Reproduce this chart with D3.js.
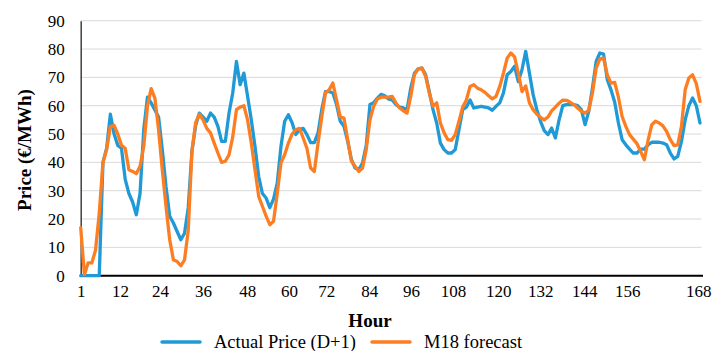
<!DOCTYPE html>
<html>
<head>
<meta charset="utf-8">
<script src="https://cdn.jsdelivr.net/npm/d3@7"></script>
<style>
  body { margin: 0; background: #fff; }
  svg text { font-family: "Liberation Serif", "Times New Roman", serif; fill: #000; }
  .tick text { font-size: 17px; }
  .axis-title { font-size: 19px; font-weight: bold; }
  .legend-text { font-size: 18.5px; }
</style>
</head>
<body>
<svg width="712" height="351"></svg>
<script>
// hours 1..168
var hours = d3.range(1, 169);

// Actual Price (D+1)
var actualPrice = [
  0, 0, 0, 0, 0, 0, 40, 45, 57, 50, 46, 45, 34, 29, 26, 21.5, 29, 51.5, 63, 61,
  58.5, 56, 44.5, 31.5, 21, 18.6, 15.6, 12.7, 15, 24,
  44, 53, 57.4, 56, 54.5, 57.4, 56, 52.7, 47.4, 47.4, 57.4, 64.5, 75.6, 67.4, 71.5, 63.3,
  55, 45.6, 35, 29, 27.4, 24, 27, 32.7, 45.6, 54.5, 56.8, 54,
  49.8, 51.5, 52, 49.8, 47, 47, 50.4, 58.6, 65, 65, 64.5, 60.4, 54.5, 52.7, 47.4, 41,
  38, 37.4, 39.8, 46, 60.4, 61, 62.7, 64, 63.5, 62.4, 62, 60.4,
  59.5, 59.2, 58.6, 66.2, 71.5, 73, 73.3, 71, 65, 58.6, 53.9, 46.8, 44.5, 43.3, 43.3,
  44.5, 51.5, 58.6, 59.5, 62, 59.2, 59.5, 59.8, 59.5, 59.2, 58.4, 59.8, 61,
  64.5, 70.9, 72.1, 73.9, 68.5, 72.7, 79.2, 71.5, 63.9, 58.6, 54.5, 51.2, 49.8, 52.1,
  48.6, 55, 60, 60.4, 60.4, 60.4, 60, 58.6, 53.3, 58, 66.2, 75.6, 78.6, 78.2,
  69.2, 65.6, 61.2, 53.9, 48, 46.2, 44.7, 43.3, 43.3, 44.7, 44.7, 46.2, 47.1, 47.1,
  47.1, 46.8, 46.2, 43.3, 41.2, 42.1, 47.4, 55, 60, 62.7, 60, 53.9
];

// M18 forecast
var m18Forecast = [
  17, 0.4, 4.5, 4.5, 9, 22, 40, 44.5, 52.7, 53, 50, 46, 45, 37.4, 36.8, 36, 38.6, 45.6,
  59.8, 66, 62.7, 51.5, 37.4, 24.5, 12.7, 5.6, 5, 3.5, 5.6, 16,
  44, 54, 57, 55, 52, 50.4, 46.8, 43.3, 40, 40.4, 42.7, 49, 58.6, 59.5, 60, 55, 46.8,
  37.4, 28, 24.5, 21, 18, 19.2, 29, 39.8, 42.7, 46.8, 50,
  51.5, 52, 48.6, 45, 38, 36.8, 46.8, 56, 64.5, 65.6, 68, 62, 56, 55.6, 48, 40.4, 38.6,
  36.8, 38, 44.5, 55, 59.8, 62.4, 63, 63, 63, 63.3, 61,
  59.2, 58.2, 57.4, 63.3, 71, 73, 73.3, 70.4, 64.5, 59.8, 61, 53.9, 50.4, 48, 47.8,
  49.8, 54.5, 59.5, 62, 66.8, 67.4, 66.2, 65.6, 64.7, 63.5, 62.4, 63.3, 66.8,
  71.5, 76.8, 78.6, 77.2, 71.5, 65, 67, 61, 58.6, 57, 55.9, 55, 56, 58.2, 59.5, 60.9,
  62, 61.9, 61.2, 60.4, 59.2, 58, 57.4, 58.4, 64.5, 73.3, 76.5, 76.8,
  70.9, 68, 68.2, 63, 56.2, 52.7, 49.8, 48.2, 46.6, 43.9, 40.9, 47.8, 53.3, 54.5, 53.9,
  52.9, 50.9, 48, 45.9, 46.2, 52.7, 65.6, 69.8, 70.9, 67.8, 61.5
];

var yTicks = [0, 10, 20, 30, 40, 50, 60, 70, 80, 90];
var xTickLabels = ["1", "12", "24", "36", "48", "60", "72", "84", "96", "108", "120", "132", "144", "156", "168"];
var seriesNames = ["Actual Price (D+1)", "M18 forecast"];
var seriesColors = ["#1f9ad6", "#fd7e22"];

(function () {
  // plot box
  var plotL = 80.7, plotR = 700, plotT = 20.7, plotB = 275.7;
  // where the source chart puts each hour label along the axis
  var xTickSlots = [1, 11.6, 22.4, 34, 45.9, 57.2, 67.2, 78.8, 90.1, 101.4, 113.6, 124.9, 136.8, 148.4, 167.5];

  var svg = d3.select("svg");

  var x = d3.scaleLinear().domain([1, 168]).range([plotL, plotR]);
  var y = d3.scaleLinear().domain([0, 90]).range([plotB, plotT]);

  // gridlines
  svg.append("g")
    .selectAll("line")
    .data(yTicks.slice(1))
    .enter().append("line")
      .attr("x1", plotL).attr("x2", plotR + 1.5)
      .attr("y1", d => y(d)).attr("y2", d => y(d))
      .style("stroke", "#d9d9d9")
      .style("stroke-width", 1);

  // y axis
  var yAxis = svg.append("g")
    .attr("transform", "translate(" + plotL + ",0)")
    .call(d3.axisLeft(y).tickValues(yTicks).tickSize(0).tickPadding(16));
  yAxis.select(".domain").style("stroke", "#404040").style("stroke-width", 1.5);

  // x axis
  var xAxis = svg.append("g")
    .attr("transform", "translate(0," + plotB + ")")
    .call(d3.axisBottom(x).tickValues(xTickSlots).tickSize(0).tickPadding(9)
      .tickFormat((d, i) => xTickLabels[i]));
  xAxis.select(".domain").attr("d", "M" + plotL + ",0H" + (plotR + 3))
    .style("stroke", "#000").style("stroke-width", 2);

  // lines
  var line = d3.line()
    .x((d, i) => x(hours[i]))
    .y(d => y(d));

  [actualPrice, m18Forecast].forEach(function (s, k) {
    svg.append("path")
      .datum(s)
      .attr("d", line)
      .style("fill", "none")
      .style("stroke", seriesColors[k])
      .style("stroke-width", 3.3)
      .style("stroke-linejoin", "round")
      .style("stroke-linecap", "round");
  });

  // axis titles
  svg.append("text")
    .attr("class", "axis-title")
    .attr("text-anchor", "middle")
    .attr("transform", "translate(31,150) rotate(-90)")
    .text("Price (€/MWh)");

  svg.append("text")
    .attr("class", "axis-title")
    .attr("text-anchor", "middle")
    .attr("x", 370).attr("y", 327)
    .text("Hour");

  // legend
  var legendX = [162, 372];
  var legend = svg.append("g").selectAll("g")
    .data(seriesNames)
    .enter().append("g")
      .attr("transform", (d, i) => "translate(" + legendX[i] + ",342)");
  legend.append("line")
    .attr("x1", 0).attr("x2", 38)
    .style("stroke", (d, i) => seriesColors[i])
    .style("stroke-width", 3.5)
    .style("stroke-linecap", "round");
  legend.append("text")
    .attr("class", "legend-text")
    .attr("x", 52).attr("y", 5.5)
    .text(d => d);
})();
</script>
</body>
</html>
